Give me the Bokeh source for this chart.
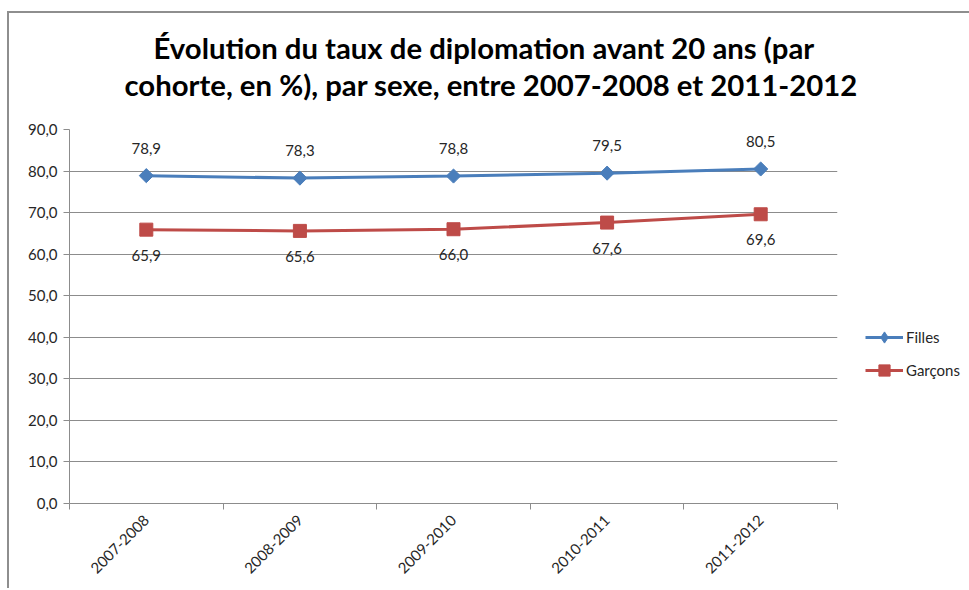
import math
from bokeh.plotting import figure
from bokeh.models import (ColumnDataSource, FixedTicker, Range1d, Legend, LegendItem, Title)
from bokeh.core.properties import value
from bokeh.embed import file_html
from bokeh.resources import INLINE

# ---- data ----
categories = ["2007-2008", "2008-2009", "2009-2010", "2010-2011", "2011-2012"]
filles = [78.9, 78.3, 78.8, 79.5, 80.5]
garcons = [65.9, 65.6, 66.0, 67.6, 69.6]
y_ticks = [0, 10, 20, 30, 40, 50, 60, 70, 80, 90]
title_lines = ["Évolution du taux de diplomation avant 20 ans (par",
               "cohorte, en %), par sexe, entre 2007-2008 et 2011-2012"]

FONT = "Lato"
BLUE = "#4a7ebb"
RED = "#be4b48"
GRID = "#8c8c8c"
TXT = "#262626"

xs = [i + 0.5 for i in range(len(categories))]

def fr(v):
    return f"{v:.1f}".replace(".", ",")

src_f = ColumnDataSource(dict(x=xs, y=filles, lab=[fr(v) for v in filles]))
src_g = ColumnDataSource(dict(x=xs, y=garcons, lab=[fr(v) for v in garcons]))

p = figure(frame_width=768, frame_height=374, output_backend="svg", toolbar_location=None,
           x_range=Range1d(0, len(categories)), y_range=Range1d(0, 90),
           min_border_left=60, min_border_right=130, min_border_top=116, min_border_bottom=85)
p.styles = {"border-top": "2px solid #8e8e8e", "border-left": "2px solid #8e8e8e",
            "margin-top": "11px", "margin-left": "7px"}
p.outline_line_color = None
p.background_fill_color = "white"
p.border_fill_color = "white"

# title (two lines + spacer)
spacer = Title(text=" ", text_font_size="1px", standoff=25)
t2 = Title(text=title_lines[1], align="left", offset=55,
           text_font=FONT, text_font_size="29.3px", text_font_style="bold", text_color="black",
           standoff=0, text_line_height=1.0)
t1 = Title(text=title_lines[0], align="left", offset=84,
           text_font=FONT, text_font_size="29.3px", text_font_style="bold", text_color="black",
           standoff=0, text_line_height=1.0)
p.add_layout(spacer, "above")
p.add_layout(t2, "above")
p.add_layout(t1, "above")

# axes
p.xaxis.ticker = FixedTicker(ticks=xs, minor_ticks=list(range(len(categories) + 1)))
p.xaxis.major_label_overrides = {x: c for x, c in zip(xs, categories)}
p.xaxis.major_label_orientation = math.pi / 4
p.xaxis.major_tick_line_color = None
p.xaxis.minor_tick_line_color = GRID
p.xaxis.minor_tick_out = 6
p.xaxis.minor_tick_in = 0
p.xaxis.axis_line_color = GRID
p.xaxis.major_label_text_font = FONT
p.xaxis.major_label_text_font_size = "15px"
p.xaxis.major_label_text_color = TXT
p.xaxis.major_label_standoff = 8

p.yaxis.ticker = FixedTicker(ticks=y_ticks, minor_ticks=[])
p.yaxis.major_label_overrides = {t: fr(t) for t in y_ticks}
p.yaxis.axis_line_color = GRID
p.yaxis.major_tick_line_color = GRID
p.yaxis.major_tick_out = 6
p.yaxis.major_tick_in = 0
p.yaxis.minor_tick_line_color = None
p.yaxis.major_label_text_font = FONT
p.yaxis.major_label_text_font_size = "15px"
p.yaxis.major_label_text_color = TXT
p.yaxis.major_label_standoff = 6

p.xgrid.grid_line_color = None
p.ygrid.grid_line_color = GRID
p.ygrid.grid_line_width = 1

# series
lf = p.line("x", "y", source=src_f, line_color=BLUE, line_width=3)
# diamond used for the legend swatch (hidden under the rotated squares in the plot)
mfd = p.scatter("x", "y", source=src_f, marker="diamond", size=12,
                fill_color=BLUE, line_color=BLUE)
mf = p.scatter("x", "y", source=src_f, marker="square", angle=math.pi / 4, size=10,
               fill_color=BLUE, line_color=BLUE)
lg = p.line("x", "y", source=src_g, line_color=RED, line_width=3)
mg = p.scatter("x", "y", source=src_g, marker="square", size=13, fill_color=RED, line_color=RED)

p.text("x", "y", text="lab", source=src_f, text_align="center", text_baseline="bottom",
       y_offset=-22, text_font=value(FONT), text_font_size="15px", text_color=TXT)
p.text("x", "y", text="lab", source=src_g, text_align="center", text_baseline="top",
       y_offset=20, text_font=value(FONT), text_font_size="15px", text_color=TXT)

legend = Legend(items=[LegendItem(label="Filles", renderers=[lf, mfd]),
                       LegendItem(label="Garçons", renderers=[lg, mg])],
                location=(28, 119), padding=0, margin=0, spacing=5,
                glyph_width=38, glyph_height=28, label_standoff=3,
                label_text_font=FONT, label_text_font_size="15px", label_text_color=TXT,
                background_fill_alpha=0, border_line_color=None)
p.add_layout(legend, "right")

open("out.html", "w").write(file_html(p, INLINE))
